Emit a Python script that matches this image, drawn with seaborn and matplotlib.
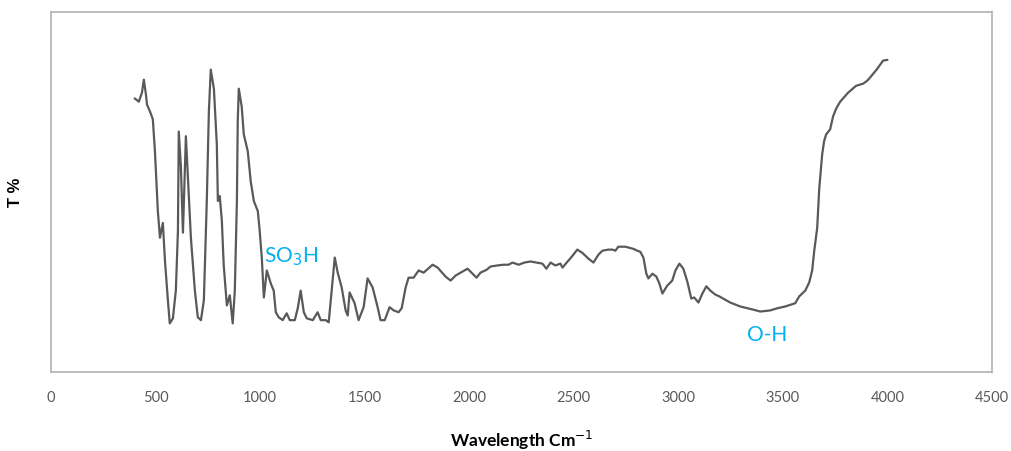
import matplotlib
matplotlib.use("Agg")
import matplotlib.pyplot as plt
import seaborn as sns
import pandas as pd

# FTIR spectrum: wavenumber (cm-1) and transmittance (arbitrary %)
wavenumber = [
    400, 420, 435, 444, 454, 459, 473, 487, 497, 511, 521, 535, 545, 559, 568,
    583, 597, 607, 611, 621, 631, 640, 645, 659, 669, 688, 702, 717, 731, 745,
    755, 764, 779, 793, 798, 807, 817, 826, 841, 855, 869, 879, 889, 893, 898,
    912, 922, 941, 955, 970, 989, 998, 1008, 1018, 1032, 1051, 1065, 1075, 1089,
    1108, 1127, 1142, 1166, 1180, 1194, 1209, 1223, 1252, 1275, 1290, 1314, 1328,
    1342, 1357, 1371, 1390, 1409, 1419, 1428, 1452, 1471, 1495, 1514, 1538, 1562,
    1576, 1596, 1619, 1639, 1662, 1677, 1696, 1710, 1734, 1758, 1782, 1825, 1849,
    1887, 1911, 1935, 1959, 1992, 2006, 2035, 2054, 2083, 2102, 2135, 2164, 2188,
    2207, 2236, 2264, 2293, 2322, 2350, 2369, 2389, 2412, 2436, 2446, 2474, 2494,
    2517, 2541, 2570, 2594, 2618, 2637, 2666, 2685, 2699, 2713, 2747, 2785, 2804,
    2818, 2833, 2847, 2857, 2876, 2895, 2909, 2924, 2947, 2971, 2986, 3005, 3024,
    3043, 3062, 3076, 3096, 3115, 3134, 3153, 3177, 3196, 3248, 3296, 3353, 3392,
    3439, 3473, 3511, 3559, 3578, 3607, 3626, 3640, 3650, 3664, 3674, 3688, 3697,
    3707, 3726, 3740, 3755, 3774, 3812, 3850, 3884, 3903, 3917, 3951, 3979, 4000,
]
transmittance = [
    76.0, 75.1, 77.6, 81.2, 77.1, 74.3, 72.4, 70.2, 61.3, 44.7, 37.3, 41.4, 30.9,
    19.9, 13.5, 14.9, 22.6, 39.2, 66.8, 57.2, 38.7, 55.8, 65.5, 48.9, 37.3, 22.6,
    15.2, 14.4, 19.9, 47.5, 72.4, 84.0, 78.7, 63.2, 47.5, 48.9, 42.0, 29.6, 18.5,
    21.3, 13.5, 22.6, 47.5, 69.6, 78.7, 73.7, 66.0, 61.3, 53.0, 47.5, 44.7, 39.2,
    31.8, 20.7, 28.2, 24.6, 22.6, 16.6, 15.2, 14.4, 16.3, 14.4, 14.4, 17.7, 22.6,
    16.6, 14.9, 14.4, 16.6, 14.4, 14.4, 13.8, 22.6, 31.8, 27.6, 23.5, 17.1, 15.7,
    22.1, 19.1, 14.4, 18.0, 26.0, 23.5, 18.0, 14.4, 14.4, 18.0, 17.1, 16.6, 17.7,
    23.5, 26.2, 26.2, 28.2, 27.6, 29.8, 29.0, 26.5, 25.4, 26.8, 27.6, 28.7, 27.9,
    26.2, 27.6, 28.4, 29.3, 29.6, 29.8, 29.8, 30.4, 29.8, 30.4, 30.7, 30.4, 30.1,
    28.7, 30.4, 29.6, 30.1, 29.0, 30.9, 32.3, 34.0, 33.1, 31.5, 30.4, 32.6, 33.7,
    34.0, 34.0, 33.7, 34.8, 34.8, 34.2, 33.7, 33.4, 31.8, 27.3, 26.0, 27.3, 26.5,
    24.6, 21.8, 24.0, 25.4, 28.2, 30.1, 28.7, 25.1, 20.4, 20.7, 19.3, 21.8, 23.8,
    22.6, 21.5, 21.0, 19.3, 18.2, 17.4, 16.8, 17.1, 17.7, 18.2, 19.1, 21.0, 22.6,
    24.9, 28.2, 33.7, 40.0, 51.1, 60.5, 64.1, 66.0, 67.4, 71.0, 73.2, 75.1, 77.6,
    79.5, 80.1, 80.9, 81.8, 84.2, 86.5, 86.7,
]

x_ticks = [0, 500, 1000, 1500, 2000, 2500, 3000, 3500, 4000, 4500]

spectrum = pd.DataFrame({"wavenumber": wavenumber, "T": transmittance})

sns.set_theme(style="white")
plt.rcParams["font.family"] = ["Lato", "DejaVu Sans"]

fig = plt.figure(figsize=(10.11, 4.51), dpi=100)
ax = fig.add_axes([51 / 1011, 1 - 372 / 451, (992 - 51) / 1011, (372 - 12) / 451])

sns.lineplot(data=spectrum, x="wavenumber", y="T", ax=ax,
             color="#595959", linewidth=1.6, sort=False)

ax.set_xlim(0, 4500)
ax.set_ylim(0, 100)
ax.set_xticks(x_ticks)
ax.set_xticklabels([str(t) for t in x_ticks], color="#595959", fontsize=10.5)
ax.set_yticks([])
ax.tick_params(axis="x", length=0, pad=14)

for side in ax.spines.values():
    side.set_color("#b0b0b0")
    side.set_linewidth(1.2)

ax.set_xlabel("Wavelength Cm$^{-1}$", fontsize=12.5, fontweight="bold",
              color="#000000", labelpad=17)
ax.set_ylabel("T %", fontsize=12, fontweight="bold", color="#000000",
              labelpad=20, family=["Liberation Sans", "DejaVu Sans"])

blue = "#00B0F0"
ax.text(1018, 32.0, "SO$_3$H", color=blue, fontsize=15, va="center", ha="left")
ax.text(3425, 10.2, "O-H", color=blue, fontsize=15, va="center", ha="center")

fig.savefig("out.png", dpi=100)
